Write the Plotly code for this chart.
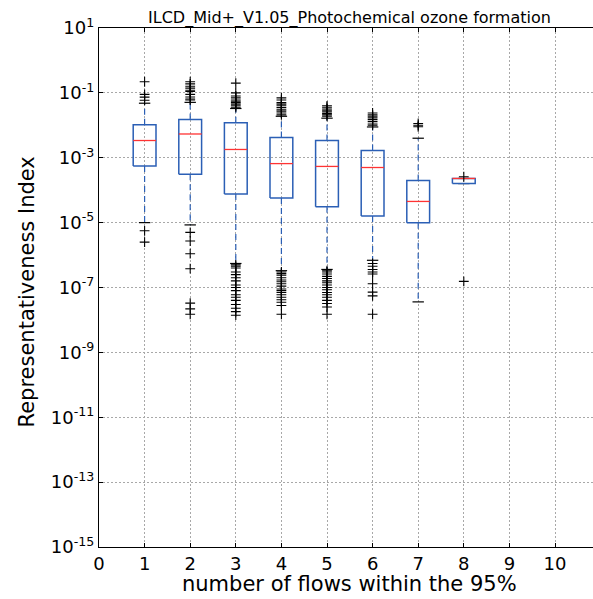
import plotly.graph_objects as go

# ---- data ----
positions = [1, 2, 3, 4, 5, 6, 7, 8]
lower_whisker = [1.0e-5, 8.5e-6, 5.5e-7, 3.3e-7, 3.6e-7, 6.9e-7, 3.6e-8, 1.6e-4]
q1 = [5.6e-4, 3.1e-4, 7.6e-5, 5.7e-5, 3.1e-5, 1.6e-5, 1.0e-5, 1.6e-4]
median = [3.4e-3, 5.4e-3, 1.8e-3, 6.6e-4, 5.4e-4, 5.0e-4, 4.5e-5, 2.3e-4]
q3 = [1.04e-2, 1.5e-2, 1.2e-2, 4.2e-3, 3.4e-3, 1.66e-3, 2.0e-4, 2.3e-4]
upper_whisker = [4.8e-2, 5.1e-2, 3.3e-2, 1.9e-2, 1.66e-2, 8.9e-3, 4.0e-3, 2.3e-4]

fliers = {
    1: [2.2e-1, 9e-2, 7.4e-2, 5.9e-2, 5.6e-6, 2.5e-6],
    2: [2.2e-1, 1.9e-1, 1.6e-1, 1.4e-1, 1.2e-1, 1.1e-1, 9e-2, 7.5e-2, 6.5e-2, 6e-2,
        5e-6, 2.7e-6, 1.1e-6, 3.8e-7, 3.3e-8, 2.2e-8, 1.5e-8],
    3: [2.0e-1, 1.0e-1, 8e-2, 7e-2, 6e-2, 5.5e-2, 5e-2, 4.5e-2, 4e-2, 3.6e-2,
        5e-7, 4.5e-7, 4e-7, 3e-7, 2.5e-7, 2e-7, 1.6e-7, 1.2e-7, 1e-7, 8e-8, 6e-8,
        5e-8, 4e-8, 3e-8, 2.3e-8, 1.8e-8, 1.4e-8],
    4: [7e-2, 6e-2, 5e-2, 4.5e-2, 4e-2, 3.5e-2, 3e-2, 2.7e-2, 2.4e-2, 2.1e-2,
        3e-7, 2.7e-7, 2.4e-7, 2e-7, 1.7e-7, 1.5e-7, 1.3e-7, 1.1e-7, 9e-8, 8e-8,
        7e-8, 6e-8, 5e-8, 4.2e-8, 3.5e-8, 2.8e-8, 1.5e-8],
    5: [4e-2, 3.6e-2, 3.2e-2, 2.9e-2, 2.6e-2, 2.3e-2, 2.1e-2, 1.9e-2,
        3.3e-7, 3e-7, 2.6e-7, 2.2e-7, 1.9e-7, 1.6e-7, 1.4e-7, 1.2e-7, 1e-7,
        8.5e-8, 7e-8, 6e-8, 5e-8, 4e-8, 3.2e-8, 2.5e-8, 1.5e-8],
    6: [2.4e-2, 2.1e-2, 1.9e-2, 1.7e-2, 1.5e-2, 1.3e-2, 1.1e-2, 1e-2,
        5.5e-7, 4.5e-7, 3.6e-7, 3e-7, 2.6e-7, 1.3e-7, 7.2e-8, 5.5e-8, 1.5e-8],
    7: [1.14e-2, 1e-2, 9e-3],
    8: [2.6e-4, 1.55e-7],
}

y_tick_exponents = [1, -1, -3, -5, -7, -9, -11, -13, -15]
x_ticks = [0, 1, 2, 3, 4, 5, 6, 7, 8, 9, 10]

title = "ILCD_Mid+_V1.05_Photochemical ozone formation"
x_label = "number of flows within the 95%"
y_label = "Representativeness Index"

# ---- build geometry from the data ----
BOX_HALF = 0.25
CAP_HALF = 0.125
BLUE = "#2b5fb5"

bx, by, mx, my, wx, wy, cx, cy = [], [], [], [], [], [], [], []
for p, lo, a, m, b, hi in zip(positions, lower_whisker, q1, median, q3, upper_whisker):
    bx += [p - BOX_HALF, p + BOX_HALF, p + BOX_HALF, p - BOX_HALF, p - BOX_HALF, None]
    by += [a, a, b, b, a, None]
    mx += [p - BOX_HALF, p + BOX_HALF, None]
    my += [m, m, None]
    wx += [p, p, None, p, p, None]
    wy += [a, lo, None, b, hi, None]
    cx += [p - CAP_HALF, p + CAP_HALF, None, p - CAP_HALF, p + CAP_HALF, None]
    cy += [lo, lo, None, hi, hi, None]

fx, fy = [], []
for p in positions:
    for v in fliers.get(p, []):
        fx.append(p)
        fy.append(v)

fig = go.Figure()
fig.add_trace(go.Scatter(x=wx, y=wy, mode="lines",
                         line=dict(color=BLUE, width=1.2, dash="6px,4px"), hoverinfo="skip"))
fig.add_trace(go.Scatter(x=cx, y=cy, mode="lines",
                         line=dict(color="black", width=1.2), hoverinfo="skip"))
fig.add_trace(go.Scatter(x=bx, y=by, mode="lines",
                         line=dict(color=BLUE, width=1.5), hoverinfo="skip"))
fig.add_trace(go.Scatter(x=mx, y=my, mode="lines",
                         line=dict(color="#ff3333", width=1.3), hoverinfo="skip"))
fig.add_trace(go.Scatter(x=fx, y=fy, mode="markers",
                         marker=dict(symbol="cross-thin", size=7,
                                     line=dict(color="black", width=1.1)),
                         hoverinfo="skip"))

FONT = "DejaVu Sans"
W, H = 593, 599
L, R, T = 99, 0, 28
B = H - 547
unit_px = 45.6
x_max = (W - L - R) / unit_px
plot_w = W - L - R
center_x = (5.5 * unit_px) / plot_w  # centre of the 0..11 axes
GRID = "#a8a8a8"
GRID_DASH = "1.5px,2.5px"

fig.update_layout(
    width=W, height=H,
    margin=dict(l=L, r=R, t=T, b=B, autoexpand=False),
    paper_bgcolor="white", plot_bgcolor="white",
    showlegend=False,
    font=dict(family=FONT, color="black"),
)
fig.update_xaxes(
    range=[0, x_max], tickvals=x_ticks, ticktext=[str(t) for t in x_ticks],
    tickfont=dict(size=18, family=FONT), showgrid=True, gridcolor=GRID,
    griddash=GRID_DASH, gridwidth=1, zeroline=False, automargin=False,
    showline=True, linecolor="black", linewidth=1.3, mirror="ticks",
    ticks="inside", ticklen=4, tickcolor="black",
)
fig.update_yaxes(
    type="log", range=[-15, 1],
    tickvals=[10.0 ** e for e in y_tick_exponents],
    ticktext=["10<sup>%d</sup>" % e for e in y_tick_exponents],
    tickfont=dict(size=18, family=FONT), showgrid=True, gridcolor=GRID,
    griddash=GRID_DASH, gridwidth=1, zeroline=False, automargin=False,
    showline=True, linecolor="black", linewidth=1.3, mirror=False,
    ticks="inside", ticklen=4, tickcolor="black",
)
fig.add_annotation(
    text=title, xref="paper", yref="paper",
    x=center_x, y=1, yanchor="bottom", xanchor="center",
    yshift=-2, showarrow=False, font=dict(size=16, family=FONT),
)
fig.add_annotation(
    text=x_label, xref="paper", yref="paper",
    x=center_x, y=0, yanchor="top", xanchor="center",
    yshift=-23, showarrow=False, font=dict(size=21, family=FONT),
)
fig.add_annotation(
    text=y_label, xref="paper", yref="paper", textangle=-90,
    x=0, y=0.5, xanchor="center", yanchor="middle",
    xshift=26 - L, yshift=-5, showarrow=False, font=dict(size=21, family=FONT),
)
fig.write_html(
    "out.html",
    config={"displayModeBar": False},
    post_script="document.body.style.margin='0px';document.body.style.overflow='hidden';",
)
